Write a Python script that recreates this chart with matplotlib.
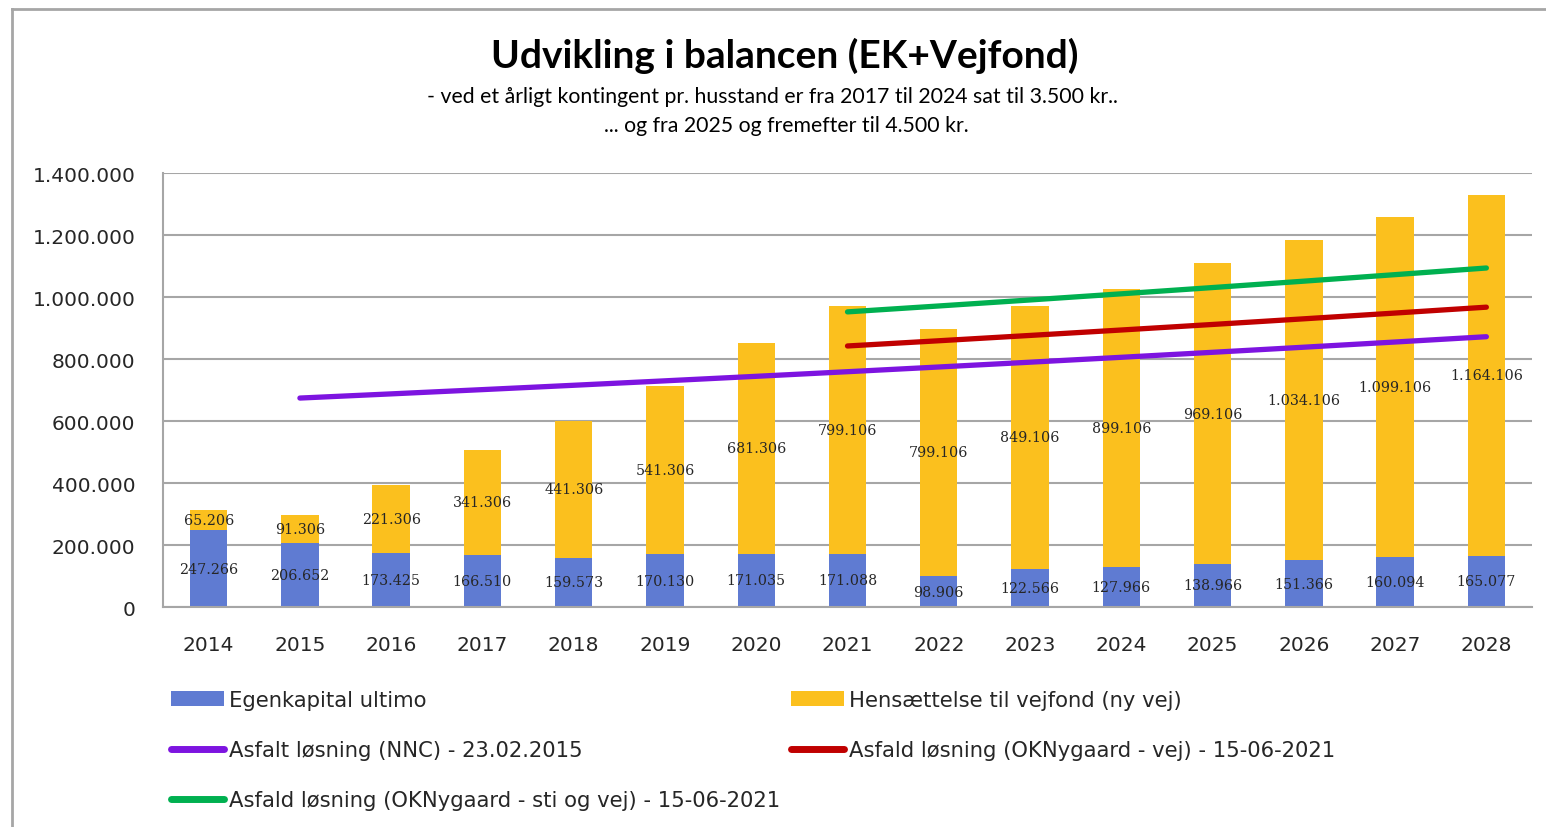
import matplotlib
matplotlib.use("Agg")
import matplotlib.pyplot as plt
from matplotlib.patches import Patch
from matplotlib.lines import Line2D
import numpy as np

years = [2014, 2015, 2016, 2017, 2018, 2019, 2020, 2021, 2022, 2023, 2024, 2025, 2026, 2027, 2028]
egenkapital = [247266, 206652, 173425, 166510, 159573, 170130, 171035, 171088, 98906, 122566, 127966, 138966, 151366, 160094, 165077]
hensaettelse = [65206, 91306, 221306, 341306, 441306, 541306, 681306, 799106, 799106, 849106, 899106, 969106, 1034106, 1099106, 1164106]

purple_years = [2015, 2016, 2017, 2018, 2019, 2020, 2021, 2022, 2023, 2024, 2025, 2026, 2027, 2028]
purple_vals = [674000, 687480, 701230, 715250, 729560, 744150, 759030, 774210, 789700, 805490, 821600, 838030, 854790, 871890]
red_years = [2021, 2022, 2023, 2024, 2025, 2026, 2027, 2028]
red_vals = [842000, 858840, 876020, 893540, 911410, 929640, 948230, 967200]
green_years = [2021, 2022, 2023, 2024, 2025, 2026, 2027, 2028]
green_vals = [952000, 971040, 990460, 1010270, 1030480, 1051090, 1072110, 1093550]

yticks = [0, 200000, 400000, 600000, 800000, 1000000, 1200000, 1400000]

title = "Udvikling i balancen (EK+Vejfond)"
subtitle1 = "- ved et årligt kontingent pr. husstand er fra 2017 til 2024 sat til 3.500 kr.."
subtitle2 = "... og fra 2025 og fremefter til 4.500 kr."

lbl_blue = "Egenkapital ultimo"
lbl_yellow = "Hensættelse til vejfond (ny vej)"
lbl_purple = "Asfalt løsning (NNC) - 23.02.2015"
lbl_red = "Asfald løsning (OKNygaard - vej) - 15-06-2021"
lbl_green = "Asfald løsning (OKNygaard - sti og vej) - 15-06-2021"

C_BLUE = "#5f7bd2"
C_YELLOW = "#fbc01e"
C_PURPLE = "#7d14e0"
C_RED = "#c00000"
C_GREEN = "#00b050"
C_GRID = "#a6a6a6"

SANS = ["Lato", "DejaVu Sans"]
WIDE = ["DejaVu Sans"]
SERIF = ["DejaVu Serif"]

def fmt(v):
    return f"{v:,.0f}".replace(",", ".")

W, H = 1546, 828
fig = plt.figure(figsize=(W / 100, H / 100), dpi=100)
fig.patch.set_facecolor("white")

# chart-area border (top and left visible)
fig.add_artist(Line2D([12 / W, 12 / W], [0, 1 - 10 / H], transform=fig.transFigure, color="#a6a6a6", lw=2))
fig.add_artist(Line2D([12 / W, 1], [1 - 10 / H, 1 - 10 / H], transform=fig.transFigure, color="#a6a6a6", lw=2))

ax = fig.add_axes([163 / W, 1 - 608 / H, (1532 - 163) / W, (608 - 174) / H])
x = np.arange(len(years))
bw = 0.41
ax.bar(x, egenkapital, bw, color=C_BLUE, zorder=2)
ax.bar(x, hensaettelse, bw, bottom=egenkapital, color=C_YELLOW, zorder=2)

for xi, e, h in zip(x, egenkapital, hensaettelse):
    ax.text(xi, e / 2, fmt(e), ha="center", va="center", fontsize=10.3, family=SERIF, color="#262626", zorder=4)
    ax.text(xi, e + h / 2, fmt(h), ha="center", va="center", fontsize=10.3, family=SERIF, color="#262626", zorder=4)

def idx(ys):
    return [years.index(y) for y in ys]

ax.plot(idx(purple_years), purple_vals, color=C_PURPLE, lw=3.8, solid_capstyle="round", zorder=3)
ax.plot(idx(red_years), red_vals, color=C_RED, lw=3.8, solid_capstyle="round", zorder=3)
ax.plot(idx(green_years), green_vals, color=C_GREEN, lw=3.8, solid_capstyle="round", zorder=3)

ax.set_xlim(-0.5, len(years) - 0.5)
ax.set_ylim(0, 1400000)
ax.set_yticks(yticks)
ax.set_yticklabels([fmt(v) for v in yticks], family=WIDE, fontsize=14.5, color="#262626")
ax.set_xticks(x)
ax.set_xticklabels([str(y) for y in years], family=WIDE, fontsize=14.5, color="#262626")
ax.tick_params(axis="both", length=0)
ax.tick_params(axis="y", pad=20)
ax.tick_params(axis="x", pad=20)
ax.yaxis.grid(True, color=C_GRID, lw=1.5, zorder=1)
ax.set_axisbelow(True)
for s in ["top", "right"]:
    ax.spines[s].set_visible(False)
ax.spines["left"].set_color(C_GRID)
ax.spines["left"].set_linewidth(1.5)
ax.spines["bottom"].set_color(C_GRID)
ax.spines["bottom"].set_linewidth(1.5)

fig.text(785 / W, 1 - 56 / H, title, ha="center", va="center", fontsize=28, fontweight="bold", family=SANS, color="black")
fig.text(772 / W, 1 - 97 / H, subtitle1, ha="center", va="center", fontsize=15.3, family=SANS, color="black")
fig.text(786 / W, 1 - 126 / H, subtitle2, ha="center", va="center", fontsize=15.3, family=SANS, color="black")

h_blue = Patch(facecolor=C_BLUE)
h_yellow = Patch(facecolor=C_YELLOW)
h_purple = Line2D([], [], color=C_PURPLE, lw=5, solid_capstyle="round")
h_red = Line2D([], [], color=C_RED, lw=5, solid_capstyle="round")
h_green = Line2D([], [], color=C_GREEN, lw=5, solid_capstyle="round")

leg_kw = dict(frameon=False, prop={"family": WIDE, "size": 15.2}, handlelength=2.5, handleheight=0.7,
              handletextpad=0.25, labelspacing=1.43, borderaxespad=0, borderpad=0, labelcolor="#262626")
leg1 = fig.legend([h_blue, h_purple, h_green], [lbl_blue, lbl_purple, lbl_green],
                  loc="upper left", bbox_to_anchor=(171 / W, 1 - 691 / H), **leg_kw)
leg2 = fig.legend([h_yellow, h_red], [lbl_yellow, lbl_red],
                  loc="upper left", bbox_to_anchor=(791 / W, 1 - 691 / H), **leg_kw)

fig.savefig("out.png", dpi=100, facecolor="white")
